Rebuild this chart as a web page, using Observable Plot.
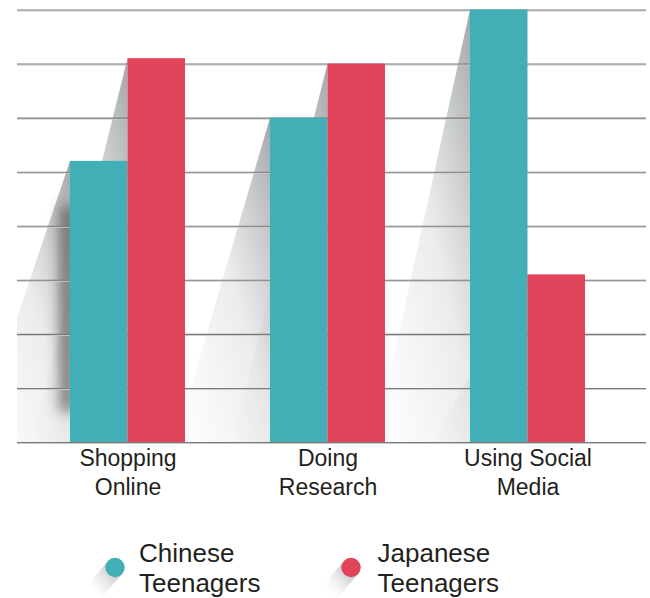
<!DOCTYPE html>
<html>
<head>
<meta charset="utf-8">
<script src="https://cdn.jsdelivr.net/npm/d3@7"></script>
<script src="https://cdn.jsdelivr.net/npm/@observablehq/plot@0.6"></script>
<style>
  body { margin: 0; background: #fff; font-family: "Liberation Sans", Arial, sans-serif; }
  #wrap { position: relative; width: 650px; }
  #legend { position: relative; height: 83px; }
  .item { position: absolute; top: 23px; height: 60px; }
  .item svg { position: absolute; top: 0; overflow: visible; }
  .item .lab { position: absolute; top: 0; font-size: 26px; line-height: 30px; color: #231f20; white-space: pre; }
</style>
</head>
<body>
<div id="wrap">
  <div id="chart"></div>
  <div id="legend"></div>
</div>
<script>
// ---- data ----
const categories = ["Shopping\nOnline", "Doing\nResearch", "Using Social\nMedia"];
const seriesNames = ["Chinese\nTeenagers", "Japanese\nTeenagers"];
const chinese = [52, 60, 80];
const japanese = [71, 70, 31];
const gridTicks = [0, 10, 20, 30, 40, 50, 60, 70, 80];
const colors = ["#42aeb6", "#e1435b"];

// ---- layout / style ----
const W = 650, H = 515;
const mL = 17, mR = 4, mT = 9.5, mB = 73;
const padIn = 0.4264, padOut = 0.2818, align = 0.46;
const step = (W - mL - mR) / (categories.length - padIn + 2 * padOut);
const halfBand = step * (1 - padIn) / 2;
const shadowOffset = 95;
const seriesValues = [chinese, japanese];

function shadowMark(index, scales, values, dimensions) {
  const x = scales.x, y = scales.y;
  const bw = typeof x.bandwidth === "function" ? x.bandwidth() : x.bandwidth;
  const g = d3.create("svg:g");
  const defs = g.append("defs");
  const lg = defs.append("linearGradient").attr("id", "barShadow")
    .attr("x1", 1).attr("y1", 0).attr("x2", 0).attr("y2", 1);
  lg.append("stop").attr("offset", 0).attr("stop-color", "#858a8d").attr("stop-opacity", 0.75);
  lg.append("stop").attr("offset", 0.45).attr("stop-color", "#9a9ea1").attr("stop-opacity", 0.2);
  lg.append("stop").attr("offset", 1).attr("stop-color", "#b0b3b5").attr("stop-opacity", 0);
  const f = defs.append("filter").attr("id", "edgeBlur")
    .attr("x", "-300%").attr("y", "-50%").attr("width", "700%").attr("height", "200%");
  f.append("feGaussianBlur").attr("stdDeviation", 7);
  const left = dimensions ? dimensions.marginLeft : mL;
  const width = dimensions ? dimensions.width : W;
  const height = dimensions ? dimensions.height : H;
  defs.append("clipPath").attr("id", "frameClip")
    .append("rect").attr("x", left).attr("y", 0).attr("width", width - left).attr("height", height);
  const body = g.append("g").attr("clip-path", "url(#frameClip)");
  const y0 = y(0);
  // cast shadows
  for (let s = 0; s < 2; s++) {
    categories.forEach((c, i) => {
      const xl = x(c) + s * bw / 2;
      const yt = y(seriesValues[s][i]);
      body.append("polygon")
        .attr("points", [[xl, yt], [xl, y0], [xl - shadowOffset, y0]].map(p => p.join(",")).join(" "))
        .attr("fill", "url(#barShadow)");
    });
  }
  // soft dark edge next to the first bar
  {
    const xl = x(categories[0]);
    const yt = y(chinese[0]);
    body.append("rect")
      .attr("x", xl - 9).attr("y", yt + 45)
      .attr("width", 12).attr("height", (y0 - yt) - 75)
      .attr("fill", "#3a3a3a").attr("opacity", 0.75)
      .attr("filter", "url(#edgeBlur)");
  }
  return g.node();
}

const plot = Plot.plot({
  width: W,
  height: H,
  marginLeft: mL,
  marginRight: mR,
  marginTop: mT,
  marginBottom: mB,
  style: { fontFamily: "'Liberation Sans', Arial, sans-serif", background: "#fff" },
  x: { domain: categories, paddingInner: padIn, paddingOuter: padOut, align: align, axis: null },
  y: { domain: [0, 80], axis: null },
  marks: [
    shadowMark,
    Plot.ruleY(gridTicks, { y: d => d, stroke: "#c9c9c9", strokeWidth: 1, dy: 1 }),
    Plot.ruleY(gridTicks, { y: d => d, stroke: "#7a7a7a", strokeWidth: 1.1 }),
    Plot.barY(categories, { x: d => d, y: (d, i) => chinese[i], fill: colors[0], insetRight: halfBand }),
    Plot.barY(categories, { x: d => d, y: (d, i) => japanese[i], fill: colors[1], insetLeft: halfBand }),
    Plot.text(categories, {
      x: d => d, text: d => d, frameAnchor: "bottom", lineAnchor: "top", dy: 3,
      fontSize: 23, lineHeight: 1.27, fill: "#231f20"
    })
  ]
});
document.getElementById("chart").appendChild(plot);

// ---- legend ----
const legendPos = [{ cx: 114.5, tx: 139 }, { cx: 351, tx: 377.5 }];
const legend = d3.select("#legend");
seriesNames.forEach((name, i) => {
  const item = legend.append("div").attr("class", "item").style("left", "0px");
  const sv = item.append("svg").attr("width", 60).attr("height", 60)
    .style("left", (legendPos[i].cx - 30) + "px");
  const gid = "legShadow" + i;
  const lg = sv.append("defs").append("linearGradient").attr("id", gid)
    .attr("x1", 1).attr("y1", 0).attr("x2", 0).attr("y2", 1);
  lg.append("stop").attr("offset", 0).attr("stop-color", "#8d9194").attr("stop-opacity", 0.55);
  lg.append("stop").attr("offset", 1).attr("stop-color", "#c0c2c4").attr("stop-opacity", 0);
  sv.append("line").attr("x1", 30).attr("y1", 29.5).attr("x2", 9).attr("y2", 54)
    .attr("stroke", `url(#${gid})`).attr("stroke-width", 19).attr("stroke-linecap", "round");
  sv.append("circle").attr("cx", 30).attr("cy", 29.5).attr("r", 9.7).attr("fill", colors[i]);
  item.append("div").attr("class", "lab").style("left", legendPos[i].tx + "px").text(name);
});
</script>
</body>
</html>
